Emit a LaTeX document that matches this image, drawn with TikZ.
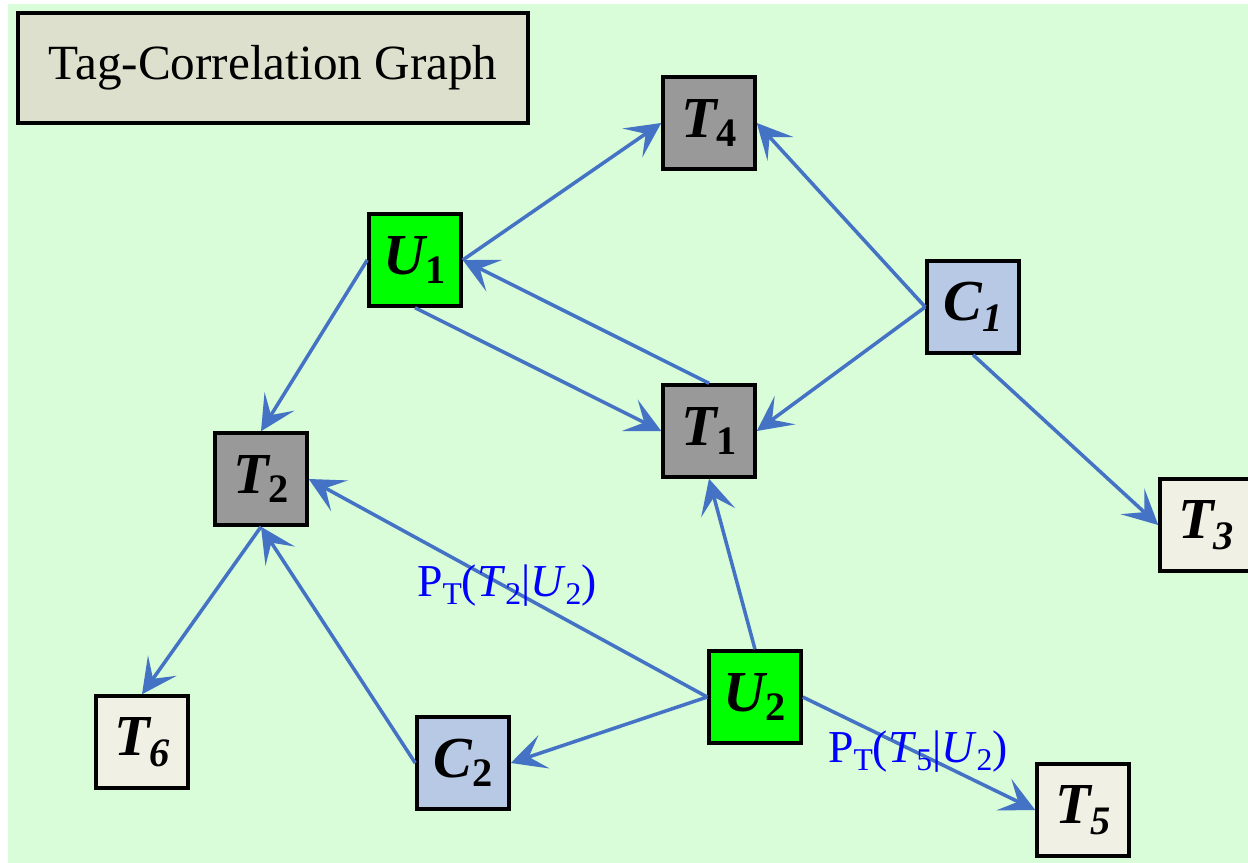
\documentclass[tikz,border=0pt]{standalone}
\usepackage{fontspec}
\setmainfont{Liberation Serif}
\usepackage{tikz}
\usetikzlibrary{arrows.meta}
\definecolor{BgGreen}{RGB}{217,252,217}
\definecolor{TitleFill}{RGB}{221,224,204}
\definecolor{TagGrey}{RGB}{153,153,153}
\definecolor{UsrGreen}{RGB}{0,255,0}
\definecolor{CatBlue}{RGB}{183,201,229}
\definecolor{LeafFill}{RGB}{240,240,228}
\definecolor{EdgeBlue}{RGB}{68,114,196}
\newcommand{\nd}[2]{#1\raisebox{-0.35ex}{\fontsize{23}{23}\selectfont\upshape #2}}
\newcommand{\ndi}[2]{#1\raisebox{-0.4ex}{\fontsize{23}{23}\selectfont #2}}
\newcommand{\lo}[1]{\raisebox{-0.35ex}{\fontsize{18}{18}\selectfont #1}}
\newcommand{\pt}[2]{P\lo{T}(\textit{#1}\lo{#2}|\textit{U}\lo{2})}
\tikzset{
  box/.style={draw, line width=2pt, minimum size=18.4mm, inner sep=0pt, font=\fontsize{33}{33}\selectfont\bfseries\itshape},
  usr/.style={box, fill=UsrGreen},
  tag/.style={box, fill=TagGrey},
  cat/.style={box, fill=CatBlue},
  leaf/.style={box, fill=LeafFill},
  ttl/.style={draw, line width=2pt, fill=TitleFill, minimum width=10.2cm, minimum height=2.2cm, font=\fontsize{28}{28}\selectfont},
  lnk/.style={draw=EdgeBlue, line width=2pt, -{Stealth[length=7mm, width=7mm, inset=3.2mm]}},
  prob/.style={text=blue, font=\fontsize{26}{26}\selectfont}
}
\begin{document}
\begin{tikzpicture}
\useasboundingbox (0,0) rectangle (24.96,-17.26);
\fill[BgGreen] (0.16,-0.08) rectangle (24.96,-17.26);
\node[ttl] (title) at (5.46,-1.36) {Tag-Correlation Graph};
\node[tag] (t4) at (14.18,-2.46) {\nd{T}{4}};
\node[usr] (u1) at (8.30,-5.20) {\nd{U}{1}};
\node[cat] (c1) at (19.46,-6.14) {\ndi{C}{1}};
\node[tag] (t1) at (14.18,-8.62) {\nd{T}{1}};
\node[tag] (t2) at (5.22,-9.58) {\nd{T}{2}};
\node[leaf] (t3) at (24.12,-10.50) {\ndi{T}{3}};
\node[leaf] (t6) at (2.84,-14.84) {\ndi{T}{6}};
\node[cat] (c2) at (9.26,-15.26) {\nd{C}{2}};
\node[usr] (u2) at (15.10,-13.94) {\nd{U}{2}};
\node[leaf] (t5) at (21.66,-16.20) {\ndi{T}{5}};
\draw[lnk] (u1.east) -- (t4.west);
\draw[lnk] (c1.west) -- (t4.east);
\draw[lnk] (t1.north) -- (u1.east);
\draw[lnk] (u1.south) -- (t1.west);
\draw[lnk] (c1.west) -- (t1.east);
\draw[lnk] (c1.south) -- (t3.west);
\draw[lnk] (u1.west) -- (t2.north);
\draw[lnk] (u2.west) -- (t2.east);
\draw[lnk] (c2.west) -- (t2.south);
\draw[lnk] (t2.south) -- (t6.north);
\draw[lnk] (u2.north) -- (t1.south);
\draw[lnk] (u2.west) -- (c2.east);
\draw[lnk] (u2.east) -- (t5.west);
\node[prob] (p2) at (10.14,-11.72) {\pt{T}{2}};
\node[prob] (p5) at (18.36,-15.04) {\pt{T}{5}};
\end{tikzpicture}
\end{document}
